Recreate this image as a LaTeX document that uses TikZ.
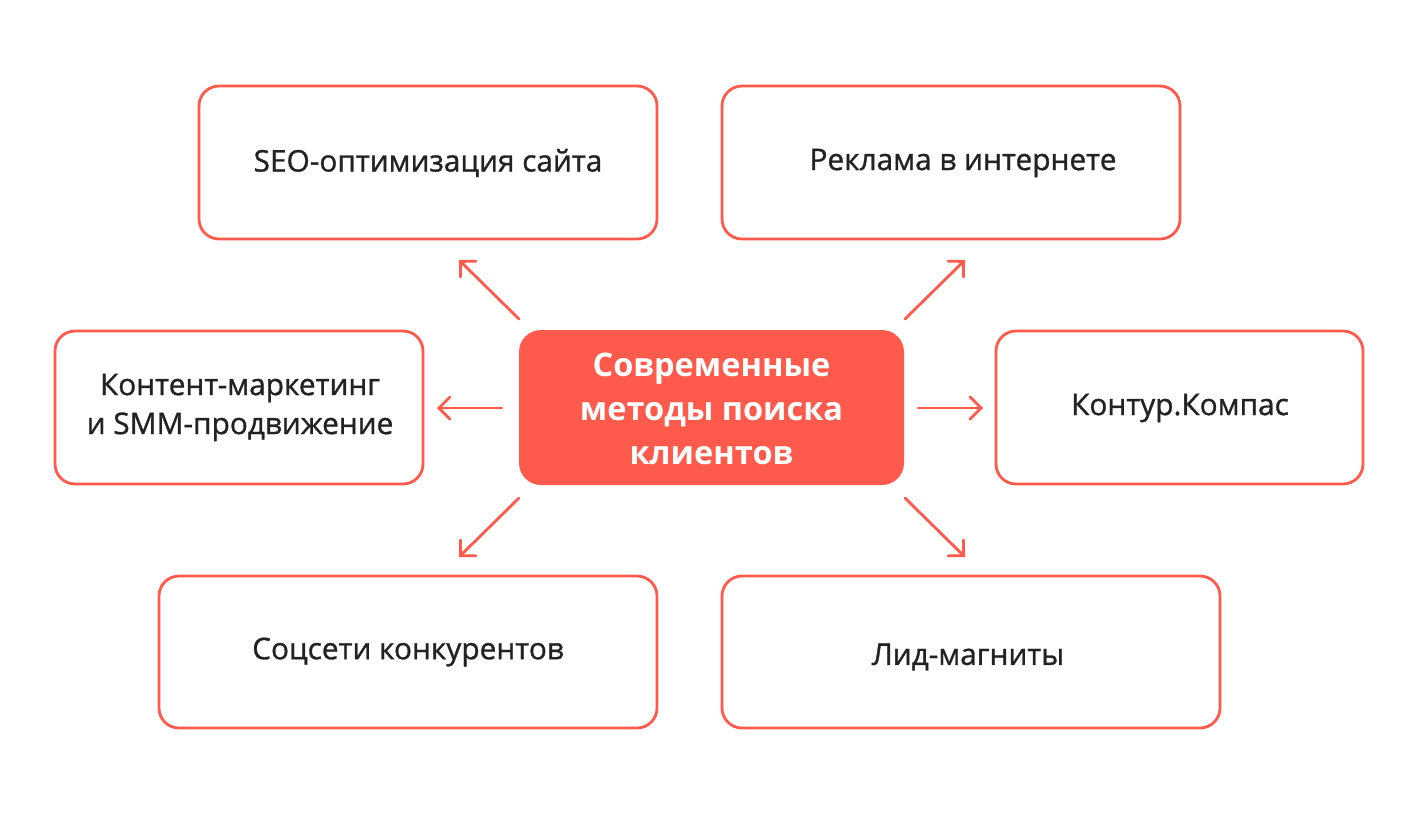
\documentclass[tikz,border=0pt]{standalone}
\usepackage{fontspec}
\setmainfont{Open Sans}
\newfontfamily\medfont[FakeBold=1]{Open Sans}
\usetikzlibrary{arrows.meta}
\definecolor{accent}{HTML}{FF5A4B}
\definecolor{ink}{HTML}{222222}
\begin{document}
\begin{tikzpicture}[x=1pt,y=-1pt,
  box/.style={draw=accent,line width=2.8pt,rounded corners=20pt,fill=white},
  lbl/.style={text=ink,font=\medfont\fontsize{29.8}{39}\selectfont,align=center},
  hub/.style={fill=accent,rounded corners=22pt},
  hubtext/.style={text=white,font=\fontsize{32.5}{44}\selectfont\bfseries,align=center},
  arr/.style={draw=accent,line width=2.8pt,line cap=round,-{Straight Barb[length=11pt,width=22pt,line cap=round]}}]
\useasboundingbox (0,0) rectangle (1418,815);
% boxes
\draw[box] (199,86) rectangle (657,239);
\node[lbl] (seo) at (428,163) {SEO-оптимизация сайта};
\draw[box] (722,86) rectangle (1180,239);
\node[lbl] (ads) at (963,163) {Реклама в интернете};
\draw[box] (55,331) rectangle (423,484);
\node[lbl] (cont) at (240,407.5) {Контент-маркетинг\\и SMM-продвижение};
\draw[box] (996,331) rectangle (1363,484);
\node[lbl] (komp) at (1180,408) {Контур.Компас};
\draw[box] (159,576) rectangle (657,728);
\node[lbl] (soc) at (408,652) {Соцсети конкурентов};
\draw[box] (722,576) rectangle (1220,728);
\node[lbl] (lid) at (968,657) {Лид-магниты};
% hub
\fill[hub] (519,330) rectangle (904,485);
\node[hubtext] (hub) at (711.5,409) {Современные\\методы поиска\\клиентов};
% arrow anchors
\coordinate (a1s) at (519,319); \coordinate (a1e) at (459,260);
\coordinate (a2s) at (905,319); \coordinate (a2e) at (965,260);
\coordinate (a3s) at (502,408); \coordinate (a3e) at (437,408);
\coordinate (a4s) at (918,408); \coordinate (a4e) at (983,408);
\coordinate (a5s) at (519,498); \coordinate (a5e) at (459,557);
\coordinate (a6s) at (905,498); \coordinate (a6e) at (965,557);
\draw[arr] (a1s) -- (a1e);
\draw[arr] (a2s) -- (a2e);
\draw[arr] (a3s) -- (a3e);
\draw[arr] (a4s) -- (a4e);
\draw[arr] (a5s) -- (a5e);
\draw[arr] (a6s) -- (a6e);
\end{tikzpicture}
\end{document}
